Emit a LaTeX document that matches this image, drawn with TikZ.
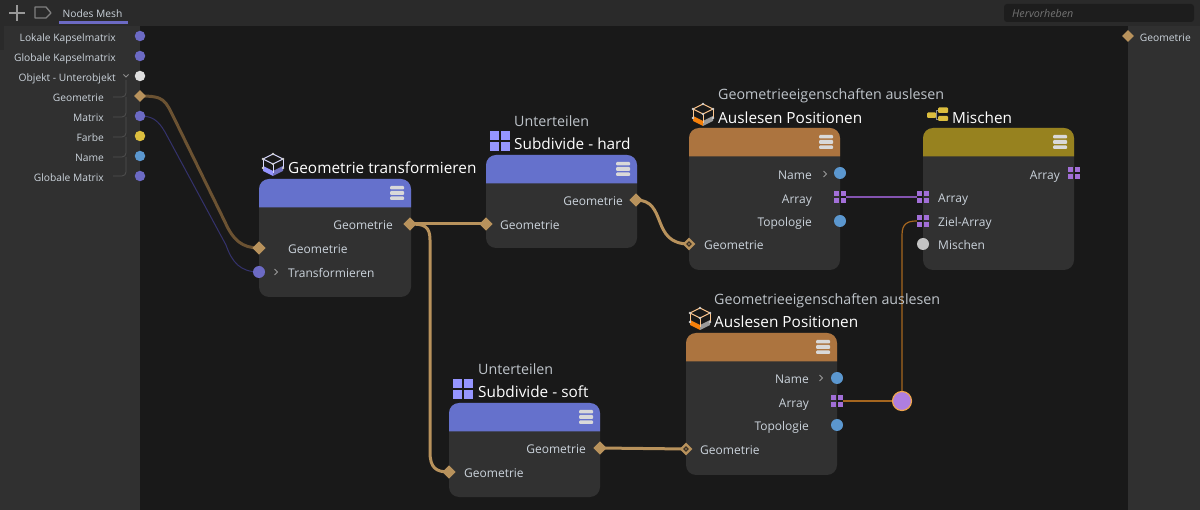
\documentclass[tikz,border=0pt]{standalone}
\usepackage{fontspec}
\setmainfont{Open Sans}
\usetikzlibrary{calc,shapes.geometric}
\pgfdeclarelayer{boxes}
\pgfdeclarelayer{wires}
\pgfsetlayers{boxes,wires,main}
\definecolor{canvas}{HTML}{191919}
\definecolor{panel}{HTML}{303030}
\definecolor{topbar}{HTML}{2A2A2A}
\definecolor{boxbody}{HTML}{313131}
\definecolor{labeltxt}{HTML}{CBD3DB}
\definecolor{titletxt}{HTML}{FFFFFF}
\definecolor{subtxt}{HTML}{BEC4CA}
\definecolor{blueh}{HTML}{6571CC}
\definecolor{brownh}{HTML}{AC743F}
\definecolor{oliveh}{HTML}{97821F}
\definecolor{geo}{HTML}{B8925C}
\definecolor{geodark}{HTML}{6B5232}
\definecolor{matp}{HTML}{6C6AC4}
\definecolor{matdark}{HTML}{34326C}
\definecolor{namep}{HTML}{5B97CF}
\definecolor{yellowp}{HTML}{DCBE3E}
\definecolor{whitep}{HTML}{DEDEDE}
\definecolor{greyp}{HTML}{C4C4C4}
\definecolor{arrp}{HTML}{A26FD8}
\definecolor{orangew}{HTML}{A5661F}
\definecolor{purplew}{HTML}{8353B0}
\definecolor{iconblue}{HTML}{9595FF}
\definecolor{treeline}{HTML}{505050}
\definecolor{rrfill}{HTML}{AE7EE0}
\definecolor{rredge}{HTML}{EFA64E}
\definecolor{hollow}{HTML}{3A3025}
\tikzset{
  x=1pt,y=-1pt,
  lbl/.style={text=labeltxt,font=\fontsize{12}{14}\selectfont,inner sep=0pt,text height=11.5pt,text depth=0pt},
  sidelbl/.style={text=labeltxt,font=\fontsize{10.25}{12}\selectfont,inner sep=0pt,anchor=east,text height=9.5pt,text depth=0pt},
  ttl/.style={text=titletxt,font=\fontsize{15.35}{18}\selectfont,inner sep=0pt,anchor=west,text height=12.5pt,text depth=0pt},
  subttl/.style={text=subtxt,font=\fontsize{14.25}{16}\selectfont,inner sep=0pt,anchor=west,text height=12pt,text depth=0pt},
  dotport/.style={circle,fill=#1,draw=none,minimum size=10.5pt,inner sep=0pt},
  bigdot/.style={circle,fill=#1,draw=none,minimum size=12pt,inner sep=0pt},
  diaport/.style={diamond,fill=geo,draw=none,minimum size=13.5pt,inner sep=0pt},
  hollowport/.style={diamond,fill=hollow,draw=geo,line width=2.2pt,minimum size=10.5pt,inner sep=0pt},
  gridport/.style={minimum size=12pt,inner sep=0pt,draw=none},
  reroute/.style={circle,fill=rrfill,draw=rredge,line width=1.2pt,minimum size=19pt,inner sep=0pt},
  wirethick/.style={draw=geo,line width=3pt},
  wirethickdark/.style={draw=geodark,line width=3pt},
  chevron/.style={white!60!black,line width=1pt},
}
% body box: #1 name, #2 x0, #3 y0, #4 x1, #5 y1, #6 header colour
\newcommand{\nodebox}[6]{%
  \fill[boxbody,rounded corners=10pt] (#2,#3) rectangle (#4,#5);
  \path[fill=#6,rounded corners=10pt] (#2,{#3+28.5}) -- (#2,#3) -- (#4,#3) -- (#4,{#3+28.5});
  \fill[#6] (#2,{#3+14}) rectangle (#4,{#3+28.5});
  \node[inner sep=0pt] (#1) at ({(#2+#4)/2},{(#3+#5)/2}) {};
  \fill[white!85!black,rounded corners=1pt] ({#4-21},{#3+7}) rectangle ({#4-7},{#3+10.5});
  \fill[white!85!black,rounded corners=1pt] ({#4-21},{#3+12}) rectangle ({#4-7},{#3+16});
  \fill[white!85!black,rounded corners=1pt] ({#4-21},{#3+17.5}) rectangle ({#4-7},{#3+21});
}
\newcommand{\gridmark}[3]{%
  \node[gridport] (#1) at (#2,#3) {};
  \fill[arrp] ({#2-6},{#3-6}) rectangle ({#2-0.8},{#3-0.8});
  \fill[arrp] ({#2+0.8},{#3-6}) rectangle ({#2+6},{#3-0.8});
  \fill[arrp] ({#2-6},{#3+0.8}) rectangle ({#2-0.8},{#3+6});
  \fill[arrp] ({#2+0.8},{#3+0.8}) rectangle ({#2+6},{#3+6});
}
\newcommand{\quadicon}[2]{%
  \fill[iconblue] ({#1},{#2}) rectangle ({#1+9.3},{#2+9.3});
  \fill[iconblue] ({#1+10.7},{#2}) rectangle ({#1+20},{#2+9.3});
  \fill[iconblue] ({#1},{#2+10.7}) rectangle ({#1+9.3},{#2+20});
  \fill[iconblue] ({#1+10.7},{#2+10.7}) rectangle ({#1+20},{#2+20});
}
% cube icon centred at #1,#2; #3 lower left face, #4 lower right face, #5 top edges
\newcommand{\cubeicon}[5]{%
  \fill[#3] ({#1-10},{#2+2}) -- ({#1},{#2+7}) -- ({#1},{#2+12}) -- ({#1-10},{#2+7}) -- cycle;
  \fill[#4] ({#1+10},{#2+2}) -- ({#1},{#2+7}) -- ({#1},{#2+12}) -- ({#1+10},{#2+7}) -- cycle;
  \draw[line width=1pt,#5] ({#1},{#2-10}) -- ({#1+10},{#2-5}) -- ({#1},{#2}) -- ({#1-10},{#2-5}) -- cycle;
  \draw[line width=1pt,#5] ({#1-10},{#2-5}) -- ({#1-10},{#2+4}) ({#1+10},{#2-5}) -- ({#1+10},{#2+4}) ({#1},{#2}) -- ({#1},{#2+9});
  \foreach \px/\py in {0/-10,10/-5,-10/-5,0/0,-10/4,10/4}{\fill[white!80!black] ({#1+\px},{#2+\py}) circle (1.3pt);}
}
\begin{document}
\begin{tikzpicture}
\useasboundingbox (0,0) rectangle (1200,510);
\begin{pgfonlayer}{boxes}
\fill[canvas] (0,0) rectangle (1200,510);
% chrome
\fill[topbar] (0,0) rectangle (1200,26);
\fill[panel] (0,26) rectangle (140,510);
\fill[topbar] (0,26) rectangle (4,50);
\fill[panel] (1128,26) rectangle (1200,510);
\fill[topbar!70!black,rounded corners=3pt] (1004,4) rectangle (1194,22);
% left panel tree
\draw[treeline,line width=0.8pt,rounded corners=4pt] (126,80) -- (126,97) -- (113,97)
  (126,97) -- (126,117) -- (113,117) (126,117) -- (126,137) -- (113,137)
  (126,137) -- (126,157) -- (113,157) (126,157) -- (126,176) -- (113,176);
\draw[white!55!black,line width=1pt] (123.5,74.5) -- (126,77) -- (128.5,74.5);
% node boxes
\nodebox{T}{259}{179}{411}{297}{blueh}
\nodebox{H}{486}{155}{637}{248}{blueh}
\nodebox{R}{689}{128}{840}{270}{brownh}
\nodebox{M}{923}{128}{1074}{270}{oliveh}
\nodebox{Q}{686}{333}{837}{475}{brownh}
\nodebox{S}{449}{403}{600}{497}{blueh}
\end{pgfonlayer}
% tab bar
\node[anchor=west,inner sep=0pt,text=white!45!black,font=\itshape\fontsize{10.7}{12}\selectfont] (search) at (1012,13) {Hervorheben};
\draw[white!60!black,line width=2pt] (9,13) -- (25,13) (17,5) -- (17,21);
\draw[white!50!black,line width=1.3pt,line join=round] (35,7) -- (46,7) -- (51,13) -- (46,18) -- (35,18) -- cycle;
\node[anchor=west,inner sep=0pt,text=labeltxt,font=\fontsize{10.25}{12}\selectfont,text height=8pt,text depth=0pt] (tab) at (62.5,13.3) {Nodes Mesh};
\fill[matp] (59,21) rectangle (128,24);
% side labels
\node[sidelbl] (l1) at (116,37) {Lokale Kapselmatrix};
\node[sidelbl] (l2) at (116,57) {Globale Kapselmatrix};
\node[sidelbl] (l3) at (116,77) {Objekt - Unterobjekt};
\node[sidelbl] (l4) at (104,97) {Geometrie};
\node[sidelbl] (l5) at (104,117) {Matrix};
\node[sidelbl] (l6) at (104,137) {Farbe};
\node[sidelbl] (l7) at (104,157) {Name};
\node[sidelbl] (l8) at (104,177) {Globale Matrix};
\node[sidelbl] (r1) at (1191,37) {Geometrie};
% ports
\node[dotport=matp] (pl1) at (140,36) {};
\node[dotport=matp] (pl2) at (140,56) {};
\node[dotport=whitep] (pl3) at (140,76) {};
\node[diaport,minimum size=12pt] (pl4) at (140,96) {};
\node[dotport=matp] (pl5) at (140,116) {};
\node[dotport=yellowp] (pl6) at (140,136) {};
\node[dotport=namep] (pl7) at (140,156) {};
\node[dotport=matp] (pl8) at (140,176) {};
\node[diaport,minimum size=12pt] (pr1) at (1128,36) {};
\node[diaport] (Tout) at (410,224) {};
\node[diaport] (Tin) at (259,248) {};
\node[bigdot=matp] (Tm) at (259,272) {};
\node[diaport] (Hout) at (636,200) {};
\node[diaport] (Hin) at (486,224) {};
\node[diaport] (Sout) at (600,448) {};
\node[diaport] (Sin) at (449,472) {};
\node[hollowport] (Rin) at (689,244) {};
\node[hollowport] (Qin) at (686,449) {};
\fill[geo] (Rin) circle (0.8pt) (Qin) circle (0.8pt);
\node[bigdot=namep] (Rn) at (840,173) {};
\node[bigdot=namep] (Rt) at (840,221) {};
\node[bigdot=namep] (Qn) at (837,378) {};
\node[bigdot=namep] (Qt) at (837,425) {};
\node[bigdot=greyp] (Mm) at (923,244) {};
\node[reroute] (rr) at (902,401) {};
\gridmark{Ra}{840}{197}
\gridmark{Qa}{837}{401}
\gridmark{Ma}{923}{197}
\gridmark{Mz}{923}{221}
\gridmark{Mo}{1074}{173}
% connectors
\begin{pgfonlayer}{wires}
\draw[wirethickdark] (pl4.center) .. controls (165,96) and (165,100) .. (175,120) -- (225,222) .. controls (233,240) and (242,248) .. (Tin.center);
\draw[matdark,line width=1pt] (pl5.center) .. controls (152,116) and (158,120) .. (165,132) -- (226,245) .. controls (232,262) and (240,272) .. (Tm.center);
\draw[wirethick] (Tout.center) -- (Hin.center);
\draw[wirethick] (Tout.center) .. controls (424,224) and (430,226) .. (430,240) -- (430,452) .. controls (430,468) and (436,472) .. (Sin.center);
\draw[wirethick] (Hout.center) .. controls (668,200) and (650,244) .. (Rin.center);
\draw[wirethick] (Sout.center) -- (Qin.center);
\draw[purplew,line width=1.2pt] (Ra.east) -- (Ma.west);
\draw[orangew,line width=1.2pt] (Qa.east) -- (rr.center);
\draw[orangew,line width=1.2pt] (rr.center) -- (902,235) .. controls (902,224) and (907,221) .. (Mz.west);
\end{pgfonlayer}
% labels in boxes
\node[lbl,anchor=east] (a1) at (393,224) {Geometrie};
\node[lbl,anchor=west] (a2) at (288,248) {Geometrie};
\node[lbl,anchor=west] (a3) at (288,272) {Transformieren};
\draw[chevron] (274.5,269) -- (277.5,272) -- (274.5,275);
\node[lbl,anchor=east] (b1) at (623,200) {Geometrie};
\node[lbl,anchor=west] (b2) at (500,224) {Geometrie};
\node[lbl,anchor=east] (c1) at (812,174) {Name};
\node[lbl,anchor=east] (c2) at (812,198) {Array};
\node[lbl,anchor=east] (c3) at (812,221) {Topologie};
\node[lbl,anchor=west] (c4) at (704,244) {Geometrie};
\draw[chevron] (823.5,171) -- (826.5,174) -- (823.5,177);
\node[lbl,anchor=east] (d1) at (1060,174) {Array};
\node[lbl,anchor=west] (d2) at (938,197) {Array};
\node[lbl,anchor=west] (d3) at (938,221) {Ziel-Array};
\node[lbl,anchor=west] (d4) at (938,244) {Mischen};
\node[lbl,anchor=east] (e1) at (809,378) {Name};
\node[lbl,anchor=east] (e2) at (809,402) {Array};
\node[lbl,anchor=east] (e3) at (809,425) {Topologie};
\node[lbl,anchor=west] (e4) at (700,449) {Geometrie};
\draw[chevron] (819.5,375) -- (822.5,378) -- (819.5,381);
\node[lbl,anchor=east] (f1) at (586,448) {Geometrie};
\node[lbl,anchor=west] (f2) at (464,472) {Geometrie};
% titles
\node[ttl] (tT) at (288,167) {Geometrie transformieren};
\node[subttl] (sH) at (514,121) {Unterteilen};
\node[ttl] (tH) at (514,143) {Subdivide - hard};
\node[subttl] (sR) at (718,94) {Geometrieeigenschaften auslesen};
\node[ttl] (tR) at (718,117) {Auslesen Positionen};
\node[subttl] (sQ) at (714,299) {Geometrieeigenschaften auslesen};
\node[ttl] (tQ) at (714,321) {Auslesen Positionen};
\node[subttl] (sS) at (478,368.5) {Unterteilen};
\node[ttl] (tS) at (478,391) {Subdivide - soft};
\node[ttl] (tM) at (952,117) {Mischen};
% icons
\quadicon{490}{131}
\quadicon{453}{379}
\cubeicon{273}{164}{iconblue}{iconblue!75!black}{white!65!iconblue}
\cubeicon{703}{114}{orange!85!brown}{white!60!black}{white!55!orange}
\cubeicon{700}{318}{orange!85!brown}{white!60!black}{white!55!orange}
% Mischen icon
\fill[yellowp,rounded corners=1pt] (927,112.5) rectangle (936,118);
\fill[yellowp,rounded corners=1pt] (938,107.5) rectangle (948,113);
\fill[yellowp,rounded corners=1pt] (938,116) rectangle (948,121);
\draw[white!55!black,line width=0.7pt] (938,110) -- (936,110) -- (936,119) -- (938,119);
\end{tikzpicture}
\end{document}
